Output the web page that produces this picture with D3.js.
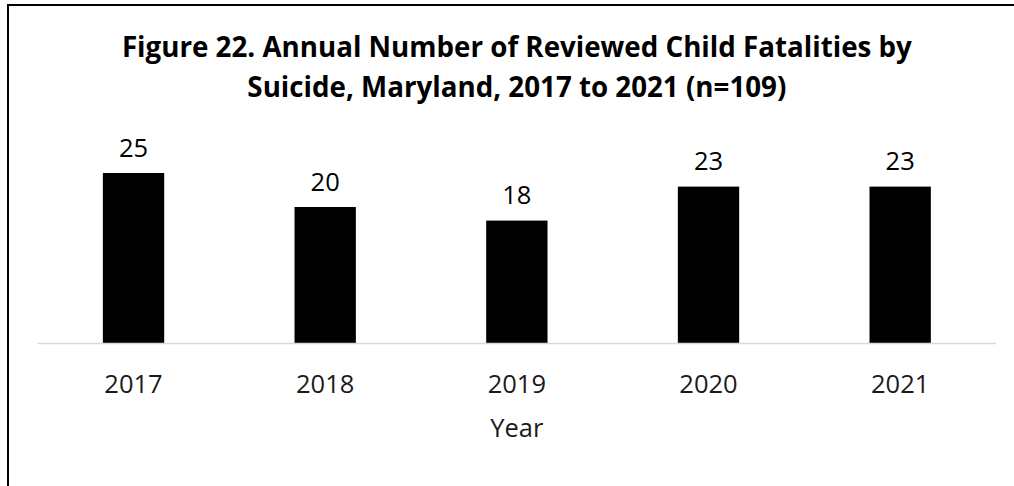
<!DOCTYPE html>
<html>
<head>
<meta charset="utf-8">
<script src="https://cdn.jsdelivr.net/npm/d3@7"></script>
<style>
  html, body { margin: 0; padding: 0; background: #fff; overflow: hidden; }
  svg { display: block; }
</style>
</head>
<body>
<svg id="chart" width="1014" height="486"></svg>
<script>
// Reviewed child fatalities by suicide, per year
const years = ["2017", "2018", "2019", "2020", "2021"];
const counts = [25, 20, 18, 23, 23];
const titleLines = [
  "Figure 22. Annual Number of Reviewed Child Fatalities by",
  "Suicide, Maryland, 2017 to 2021 (n=109)"
];
const xAxisTitle = "Year";

const W = 1014, H = 486;
const font = "'Open Sans', 'Noto Sans', sans-serif";
const svg = d3.select("#chart");

// outer frame (runs past the right and bottom edges)
svg.append("rect")
  .attr("x", 8).attr("y", 5)
  .attr("width", W + 20).attr("height", H + 20)
  .attr("fill", "none")
  .attr("stroke", "#000")
  .attr("stroke-width", 2);

const plot = { left: 37.7, right: 996, top: 139, bottom: 343 };

const x = d3.scaleBand()
  .domain(years)
  .range([plot.left, plot.right])
  .paddingInner(0.68)
  .paddingOuter(0.34);

const y = d3.scaleLinear()
  .domain([0, 30])
  .range([plot.bottom, plot.top]);

// title: sized so the first line spans about 790px
const title = svg.append("g").attr("font-family", font)
  .attr("font-weight", 700).attr("fill", "#000")
  .attr("text-anchor", "middle");
const titleText = titleLines.map((t, i) => title.append("text")
  .attr("x", (plot.left + plot.right) / 2)
  .attr("y", 57 + i * 40)
  .attr("font-size", 24)
  .text(t));
const firstLen = titleText[0].node().getComputedTextLength();
const titleSize = firstLen > 0 ? 24 * 790 / firstLen : 27;
titleText.forEach(t => t.attr("font-size", titleSize));

// bars
svg.append("g").selectAll("rect")
  .data(years)
  .join("rect")
  .attr("x", d => x(d))
  .attr("y", (d, i) => y(counts[i]))
  .attr("width", x.bandwidth())
  .attr("height", (d, i) => y(0) - y(counts[i]))
  .attr("fill", "#000");

// value labels
svg.append("g").selectAll("text")
  .data(years)
  .join("text")
  .attr("x", d => x(d) + x.bandwidth() / 2)
  .attr("y", (d, i) => y(counts[i]) - 16.5)
  .attr("text-anchor", "middle")
  .attr("font-family", font)
  .attr("font-size", 25.5)
  .attr("fill", "#000")
  .text((d, i) => counts[i]);

// category axis
const xAxis = svg.append("g")
  .attr("transform", `translate(0,${plot.bottom})`)
  .call(d3.axisBottom(x).tickSize(0));
xAxis.select(".domain")
  .attr("d", `M${plot.left},0.5H${plot.right}`)
  .attr("stroke", "#d9d9d9")
  .attr("stroke-width", 1.3);
xAxis.selectAll(".tick text")
  .attr("font-family", font)
  .attr("font-size", 25.5)
  .attr("fill", "#1a1a1a")
  .attr("dy", "0")
  .attr("y", 50);

// axis title
svg.append("text")
  .attr("x", (plot.left + plot.right) / 2)
  .attr("y", 436.5)
  .attr("text-anchor", "middle")
  .attr("font-family", font)
  .attr("font-size", 25.5)
  .attr("fill", "#1a1a1a")
  .text(xAxisTitle);
</script>
</body>
</html>
